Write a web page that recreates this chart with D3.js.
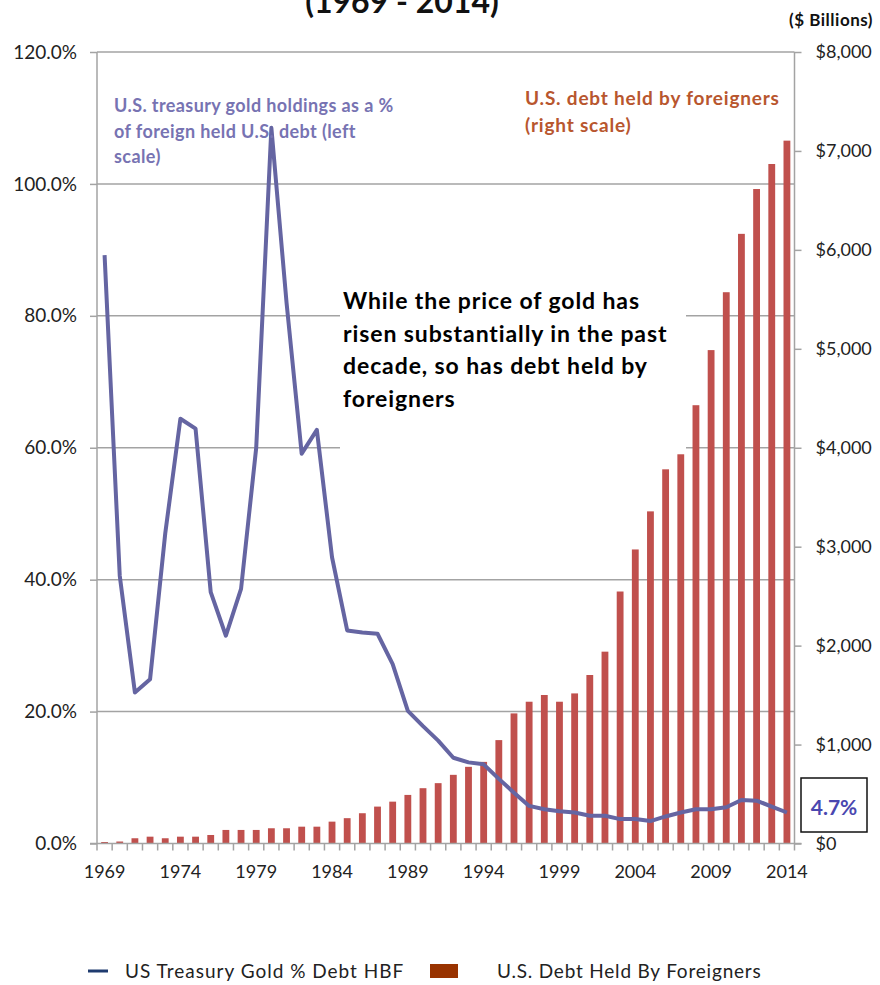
<!DOCTYPE html>
<html>
<head>
<meta charset="utf-8">
<script src="https://cdn.jsdelivr.net/npm/d3@7"></script>
<style>
  body { margin: 0; background: #fff; }
  svg { display: block; font-family: Lato, "Open Sans", sans-serif; }
</style>
</head>
<body>
<svg id="chart" width="880" height="985"></svg>
<script>
// years on the x axis
var years = [1969, 1970, 1971, 1972, 1973, 1974, 1975, 1976, 1977, 1978,
  1979, 1980, 1981, 1982, 1983, 1984, 1985, 1986, 1987, 1988,
  1989, 1990, 1991, 1992, 1993, 1994, 1995, 1996, 1997, 1998,
  1999, 2000, 2001, 2002, 2003, 2004, 2005, 2006, 2007, 2008,
  2009, 2010, 2011, 2012, 2013, 2014];

// US treasury gold as % of foreign held debt (left scale)
var goldPct = [89.2, 40.6, 22.9, 24.9, 47.0, 64.4, 62.9, 38.1, 31.5, 38.6,
  60.0, 108.5, 82.0, 59.1, 62.7, 43.4, 32.3, 32.0, 31.8, 27.2,
  20.1, 17.8, 15.6, 13.0, 12.3, 12.0, 9.8, 7.7, 5.7, 5.2,
  4.9, 4.7, 4.2, 4.2, 3.7, 3.7, 3.4, 4.1, 4.7, 5.2,
  5.2, 5.5, 6.6, 6.5, 5.6, 4.7];

// US debt held by foreigners, $ billions (right scale)
var debtHBF = [15, 20, 53, 69, 53, 69, 69, 86, 137, 137,
  137, 154, 154, 170, 170, 221, 256, 306, 373, 423,
  491, 559, 610, 694, 775, 825, 1045, 1315, 1433, 1501,
  1433, 1517, 1703, 1939, 2547, 2972, 3357, 3782, 3934, 4430,
  4987, 5572, 6162, 6615, 6868, 7104];

var leftTicks = [0, 20, 40, 60, 80, 100, 120];
var rightTicks = [0, 1000, 2000, 3000, 4000, 5000, 6000, 7000, 8000];
var yearLabels = [1969, 1974, 1979, 1984, 1989, 1994, 1999, 2004, 2009, 2014];

var margin = { top: 52, right: 86, bottom: 142, left: 97 };
var width = 880, height = 985;
var svg = d3.select("#chart");

var x = d3.scaleBand()
  .domain(years)
  .range([margin.left, width - margin.right + 0.5])
  .paddingInner(0.55)
  .paddingOuter(0.275);

var yL = d3.scaleLinear().domain([0, 120]).range([height - margin.bottom + 0.5, margin.top]);
var yR = d3.scaleLinear().domain([0, 8000]).range([height - margin.bottom + 0.5, margin.top]);

var grey = "#a3a3a3";
var x0 = margin.left, x1 = width - margin.right + 0.5;

// gridlines
svg.append("g")
  .selectAll("line")
  .data(leftTicks.slice(1))
  .join("line")
  .attr("x1", x0)
  .attr("x2", x1)
  .attr("y1", d => yL(d))
  .attr("y2", d => yL(d))
  .attr("stroke", grey)
  .attr("stroke-width", 1.5);

// white text box sitting over the grid
svg.append("rect")
  .attr("x", 340).attr("y", 285)
  .attr("width", 346).attr("height", 167)
  .attr("fill", "#fff");

// bars
svg.append("g")
  .selectAll("rect")
  .data(years.map((d, i) => ({ year: d, value: debtHBF[i] })))
  .join("rect")
  .attr("x", d => x(d.year))
  .attr("y", d => yR(d.value))
  .attr("width", x.bandwidth())
  .attr("height", d => yR(0) - yR(d.value))
  .attr("fill", "#c0504d");

// left axis
svg.append("g")
  .attr("transform", `translate(${x0},0)`)
  .call(d3.axisLeft(yL).tickValues(leftTicks).tickSize(7).tickPadding(13)
    .tickFormat(d => d3.format(".1f")(d) + "%"))
  .call(g => g.selectAll("line, path").attr("stroke", grey).attr("stroke-width", 1.5))
  .call(g => g.select(".domain").attr("d", `M0,${yL(120)}V${yL(0)}`))
  .call(g => g.selectAll("text").attr("font-size", 19).attr("font-family", "Lato").attr("fill", "#222"));

// right axis
svg.append("g")
  .attr("transform", `translate(${x1},0)`)
  .call(d3.axisRight(yR).tickValues(rightTicks).tickSize(7).tickPadding(14)
    .tickFormat(d => "$" + d3.format(",")(d)))
  .call(g => g.selectAll("line, path").attr("stroke", grey).attr("stroke-width", 1.5))
  .call(g => g.select(".domain").attr("d", `M0,${yR(8000)}V${yR(0)}`))
  .call(g => g.selectAll("text").attr("font-size", 18).attr("font-family", "Lato").attr("fill", "#222"));

// bottom axis: labels every 5 years, ticks between every year
var baseY = yL(0);
svg.append("line")
  .attr("x1", x0 - 7).attr("x2", x1 + 7)
  .attr("y1", baseY).attr("y2", baseY)
  .attr("stroke", grey).attr("stroke-width", 1.5);

var step = x.step();
var tickX = d => x(d) + x.bandwidth() / 2 - step / 2;
svg.append("g")
  .selectAll("line")
  .data(years)
  .join("line")
  .attr("x1", tickX)
  .attr("x2", tickX)
  .attr("y1", baseY)
  .attr("y2", baseY + 7)
  .attr("stroke", grey)
  .attr("stroke-width", 1.5);
svg.append("line")
  .attr("x1", x1).attr("x2", x1)
  .attr("y1", baseY).attr("y2", baseY + 7)
  .attr("stroke", grey).attr("stroke-width", 1.5);

svg.append("g")
  .attr("transform", `translate(0,${baseY})`)
  .call(d3.axisBottom(x).tickValues(yearLabels).tickSize(0).tickPadding(22))
  .call(g => g.select(".domain").remove())
  .call(g => g.selectAll("text").attr("font-size", 18).attr("font-family", "Lato").attr("fill", "#222"));

// gold % line
var line = d3.line()
  .x((d, i) => x(years[i]) + x.bandwidth() / 2)
  .y(d => yL(d));

svg.append("path")
  .datum(goldPct)
  .attr("d", line)
  .attr("fill", "none")
  .attr("stroke", "#6565a2")
  .attr("stroke-width", 4)
  .attr("stroke-linejoin", "round");

// title (clipped at the top of the picture, as in the source)
svg.append("text")
  .attr("x", 402).attr("y", 13)
  .attr("text-anchor", "middle")
  .attr("font-size", 32).attr("font-weight", "bold")
  .attr("fill", "#111")
  .text("(1969 - 2014)");

svg.append("text")
  .attr("x", 873).attr("y", 26)
  .attr("text-anchor", "end")
  .attr("font-size", 17).attr("font-weight", "bold")
  .attr("letter-spacing", 0.5)
  .attr("fill", "#111")
  .text("($ Billions)");

// annotations
var noteL = ["U.S. treasury gold holdings as a %", "of foreign held U.S. debt (left", "scale)"];
svg.append("g")
  .selectAll("text")
  .data(noteL)
  .join("text")
  .attr("x", 114)
  .attr("y", (d, i) => 112 + i * 25.5)
  .attr("font-size", 18).attr("font-weight", "bold")
  .attr("letter-spacing", 0.4)
  .attr("fill", "#7773b2")
  .text(d => d);

var noteR = ["U.S. debt held by foreigners", "(right scale)"];
svg.append("g")
  .selectAll("text")
  .data(noteR)
  .join("text")
  .attr("x", 525)
  .attr("y", (d, i) => 105 + i * 27)
  .attr("font-size", 19).attr("font-weight", "bold")
  .attr("letter-spacing", 0.8)
  .attr("fill", "#b8562e")
  .text(d => d);

var noteMid = ["While the price of gold has", "risen substantially in the past", "decade, so has debt held by", "foreigners"];
svg.append("g")
  .selectAll("text")
  .data(noteMid)
  .join("text")
  .attr("x", 343)
  .attr("y", (d, i) => 309 + i * 32.7)
  .attr("font-size", 23).attr("font-weight", "bold")
  .attr("letter-spacing", 0.9)
  .attr("fill", "#000")
  .text(d => d);

// last value callout
svg.append("rect")
  .attr("x", 801).attr("y", 778)
  .attr("width", 66).attr("height", 54)
  .attr("fill", "#fff")
  .attr("stroke", "#111").attr("stroke-width", 1.5);

svg.append("text")
  .attr("x", 834).attr("y", 815)
  .attr("text-anchor", "middle")
  .attr("font-size", 21).attr("font-weight", "bold")
  .attr("fill", "#4a47b0")
  .text(d3.format(".1f")(goldPct[goldPct.length - 1]) + "%");

// legend
var legend = svg.append("g").attr("font-size", 19).attr("fill", "#222");
legend.append("line")
  .attr("x1", 88).attr("x2", 108).attr("y1", 971).attr("y2", 971)
  .attr("stroke", "#1f3b6f").attr("stroke-width", 3);
legend.append("text").attr("x", 125).attr("y", 978).attr("letter-spacing", 1)
  .text("US Treasury Gold % Debt HBF");
legend.append("rect")
  .attr("x", 430).attr("y", 964).attr("width", 28).attr("height", 14)
  .attr("fill", "#993300");
legend.append("text").attr("x", 497).attr("y", 978).attr("letter-spacing", 0.8)
  .text("U.S. Debt Held By Foreigners");
</script>
</body>
</html>
